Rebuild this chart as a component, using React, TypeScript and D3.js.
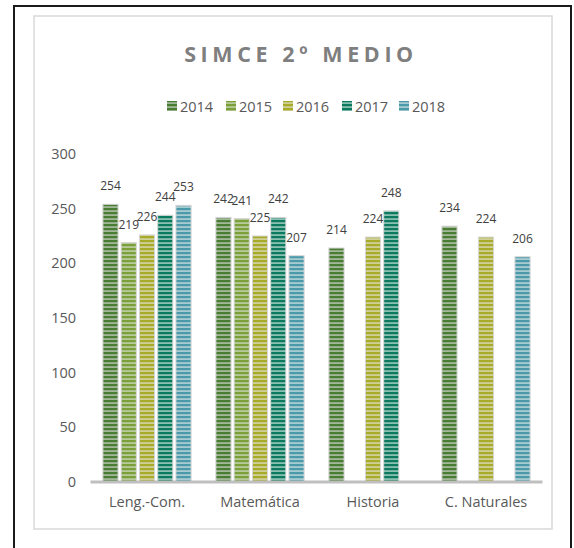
import React from "react";
import * as d3 from "d3";

const categories = ["Leng.-Com.", "Matemática", "Historia", "C. Naturales"];
const years = ["2014", "2015", "2016", "2017", "2018"];
const values2014: (number | null)[] = [254, 242, 214, 234];
const values2015: (number | null)[] = [219, 241, null, null];
const values2016: (number | null)[] = [226, 225, 224, 224];
const values2017: (number | null)[] = [244, 242, 248, null];
const values2018: (number | null)[] = [253, 207, null, 206];
const yTicks = [0, 50, 100, 150, 200, 250, 300];
const title = "SIMCE 2º MEDIO";

const darkColors = ["#4a7d34", "#7aa03a", "#a8ab2a", "#0b7a5e", "#4a9aaa"];
const lightColors = ["#a3b898", "#b8c99c", "#cfcf98", "#8abfb1", "#a8cbd2"];

const FONT = "'Open Sans', sans-serif";

export default function App() {
  const series = [values2014, values2015, values2016, values2017, values2018];
  const y = d3.scaleLinear().domain([0, 300]).range([482, 154]);
  const x0 = d3.scaleBand<string>().domain(categories).range([90.5, 542.5]).padding(0);
  const x1 = d3.scaleBand<string>().domain(years).range([0, 88.2]).paddingInner(0.17).paddingOuter(0);
  const groupOffset = x0.bandwidth() / 2 - 44.1;

  const legendX = [167, 226, 283, 342, 399];

  return (
    <svg
      width={574}
      height={548}
      style={{ position: "absolute", left: 0, top: 0, background: "#fff" }}
    >
      <defs>
        {years.map((yr, i) => (
          <pattern
            key={yr}
            id={`p${yr}`}
            patternUnits="userSpaceOnUse"
            width={4}
            height={4}
          >
            <rect x={0} y={0} width={4} height={4} fill={lightColors[i]} />
            <rect x={0} y={0} width={4} height={2.2} fill={darkColors[i]} />
          </pattern>
        ))}
      </defs>
      <rect x={0} y={0} width={574} height={548} fill="#fff" />
      <path d="M14,548 L14,6 L571,6 L571,548" fill="none" stroke="#1a1a1a" strokeWidth={2} />
      <rect x={34} y={16} width={518} height={513} fill="#fff" stroke="#d9d9d9" strokeWidth={1.5} />

      <text
        x={301}
        y={62}
        textAnchor="middle"
        fontFamily={FONT}
        fontWeight={700}
        fontSize={21.5}
        letterSpacing={4.6}
        fill="#7f7f7f"
      >
        {title}
      </text>

      {years.map((yr, i) => (
        <g key={yr}>
          <rect x={legendX[i]} y={101} width={10} height={10} fill={`url(#p${yr})`} />
          <text x={legendX[i] + 13} y={112} fontFamily={FONT} fontSize={14.5} fill="#595959">
            {yr}
          </text>
        </g>
      ))}

      {yTicks.map((t) => (
        <text
          key={t}
          x={76}
          y={y(t)}
          dy="0.35em"
          textAnchor="end"
          fontFamily={FONT}
          fontSize={14.5}
          fill="#595959"
        >
          {t}
        </text>
      ))}

      {categories.map((c, ci) => (
        <g key={c}>
          {series.map((vals, si) => {
            const v = vals[ci];
            if (v == null) return null;
            const bx = (x0(c) as number) + groupOffset + (x1(years[si]) as number);
            const bw = x1.bandwidth();
            return (
              <g key={si}>
                <rect
                  x={bx}
                  y={y(v)}
                  width={bw}
                  height={y(0) - y(v)}
                  fill={`url(#p${years[si]})`}
                  stroke="#d6d6d6"
                  strokeWidth={1}
                />
                <text
                  x={bx + bw / 2}
                  y={y(v) - 14}
                  textAnchor="middle"
                  fontFamily={FONT}
                  fontSize={12}
                  fill="#404040"
                >
                  {v}
                </text>
              </g>
            );
          })}
          <text
            x={(x0(c) as number) + x0.bandwidth() / 2}
            y={507}
            textAnchor="middle"
            fontFamily={FONT}
            fontSize={14.5}
            fill="#595959"
          >
            {c}
          </text>
        </g>
      ))}

      <line x1={90.5} x2={542.5} y1={y(0)} y2={y(0)} stroke="#bfbfbf" strokeWidth={3} />
    </svg>
  );
}
